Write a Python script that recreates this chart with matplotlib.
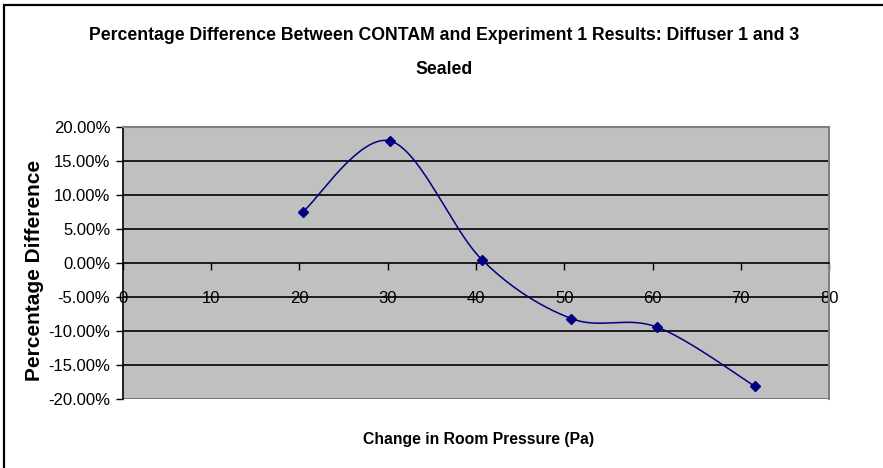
import numpy as np
import matplotlib.pyplot as plt
from matplotlib.patches import Rectangle
from matplotlib.ticker import FuncFormatter

plt.rcParams['font.family'] = ['Liberation Sans', 'DejaVu Sans']

# data
pressure = [20.4, 30.3, 40.7, 50.8, 60.5, 71.6]
pct_diff = [7.5, 17.9, 0.45, -8.15, -9.4, -18.1]

title = "Percentage Difference Between CONTAM and Experiment 1 Results: Diffuser 1 and 3\nSealed"
xlabel = "Change in Room Pressure (Pa)"
ylabel = "Percentage Difference"


def smooth(xs, ys, n=40):
    # excel style smoothed line (bezier through points, catmull-rom controls)
    xs = np.asarray(xs, float)
    ys = np.asarray(ys, float)
    px = np.concatenate([[xs[0]], xs, [xs[-1]]])
    py = np.concatenate([[ys[0]], ys, [ys[-1]]])
    outx, outy = [], []
    t = np.linspace(0, 1, n)
    for i in range(1, len(px) - 2):
        p0 = np.array([px[i], py[i]])
        p3 = np.array([px[i + 1], py[i + 1]])
        c1 = p0 + (np.array([px[i + 1], py[i + 1]]) - np.array([px[i - 1], py[i - 1]])) / 6
        c2 = p3 - (np.array([px[i + 2], py[i + 2]]) - np.array([px[i], py[i]])) / 6
        b = ((1 - t) ** 3)[:, None] * p0 + (3 * (1 - t) ** 2 * t)[:, None] * c1 \
            + (3 * (1 - t) * t ** 2)[:, None] * c2 + (t ** 3)[:, None] * p3
        outx.extend(b[:, 0])
        outy.extend(b[:, 1])
    return outx, outy


fig = plt.figure(figsize=(8.83, 4.68), dpi=100)
# chart area border (cut off at right and bottom in the original)
fig.patches.append(Rectangle((0.005, -0.05), 1.1, 1.039, transform=fig.transFigure,
                             fill=False, edgecolor='black', linewidth=1.6))

ax = fig.add_axes([0.139, 0.1468, 0.800, 0.5825])
ax.set_facecolor('#c0c0c0')
ax.set_xlim(0, 80)
ax.set_ylim(-20, 20)

for v in [-15, -10, -5, 5, 10, 15]:
    ax.axhline(v, color='black', linewidth=1.2, zorder=1)

sx, sy = smooth(pressure, pct_diff)
ax.plot(sx, sy, color='#000080', linewidth=1.1, zorder=3)
ax.plot(pressure, pct_diff, linestyle='none', marker='D', markersize=5.5,
        color='#000080', zorder=4)

ax.spines['left'].set_position(('data', 0))
ax.spines['bottom'].set_position(('data', 0))
ax.spines['left'].set_color('black')
ax.spines['bottom'].set_color('black')
ax.spines['left'].set_linewidth(1.2)
ax.spines['bottom'].set_linewidth(1.2)
ax.spines['top'].set_color('#808080')
ax.spines['right'].set_color('#808080')
ax.spines['top'].set_linewidth(1.5)
ax.spines['right'].set_linewidth(1.5)
ax.spines['left'].set_zorder(2)
# bottom frame line of the plot area
ax.axhline(-20, color='#707070', linewidth=2, zorder=2)

ax.set_xticks(range(0, 81, 10))
ax.set_yticks(range(-20, 21, 5))
ax.yaxis.set_major_formatter(FuncFormatter(lambda v, p: f"{v:.2f}%"))
ax.tick_params(axis='y', direction='out', length=5, width=1, labelsize=12, pad=4)
ax.tick_params(axis='x', direction='out', length=5, width=1, labelsize=12, pad=15)

fig.text(0.503, 0.887, title, ha='center', va='center', fontsize=12.7,
         fontweight='bold', linespacing=2.3)
fig.text(0.542, 0.060, xlabel, ha='center', va='center', fontsize=11.3, fontweight='bold')
fig.text(0.039, 0.423, ylabel, ha='center', va='center', rotation=90,
         fontsize=15, fontweight='bold')

plt.savefig('out.png', dpi=100)
